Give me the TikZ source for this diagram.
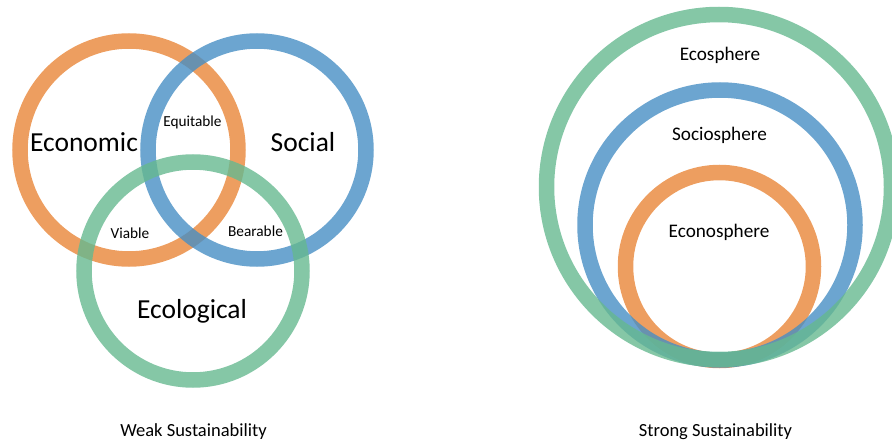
\documentclass[tikz,border=0pt]{standalone}
\usepackage{fontspec}
\setmainfont{Carlito}
\usetikzlibrary{positioning}

\definecolor{econ}{RGB}{233,134,56}
\definecolor{soc}{RGB}{71,142,196}
\definecolor{eco}{RGB}{102,185,144}

\tikzset{
  ring/.style={line width=15.5pt, draw opacity=0.8},
  big/.style={font=\fontsize{27.5}{30}\selectfont},
  small/.style={font=\fontsize{15.3}{17}\selectfont},
  sphere/.style={font=\fontsize{19.2}{21}\selectfont},
  caption/.style={font=\fontsize{18.5}{20}\selectfont},
}

\begin{document}
\begin{tikzpicture}[x=1pt,y=-1pt]
  \useasboundingbox (0,0) rectangle (892,441);
  \clip (0,0) rectangle (892,441);

  %% weak sustainability: three overlapping rings
  \draw [ring, econ] (129,150) circle (109);
  \draw [ring, soc] (257,150) circle (109);
  \draw [ring, eco] (193,271) circle (109);

  \node [big] (economic) at (84,142) {Economic};
  \node [big] (social) at (303,142) {Social};
  \node [big] (ecological) at (192,311) {Ecological};
  \node [small] (equitable) at (192.5,122) {Equitable};
  \node [small] (viable) at (130,233) {Viable};
  \node [small] (bearable) at (255.5,231) {Bearable};

  %% strong sustainability: nested rings, all touching at the bottom
  \draw [ring, econ] (719.5,266.5) circle (94);
  \draw [ring, soc] (720,225) circle (135);
  \draw [ring, eco] (719,187) circle (172.5);

  \node [sphere] (ecosphere) at (720,55) {Ecosphere};
  \node [sphere] (sociosphere) at (719.5,135) {Sociosphere};
  \node [sphere] (econosphere) at (719,232) {Econosphere};

  \node [caption] (weak) at (193.5,432) {Weak Sustainability};
  \node [caption] (strong) at (715.5,432) {Strong Sustainability};
\end{tikzpicture}
\end{document}
